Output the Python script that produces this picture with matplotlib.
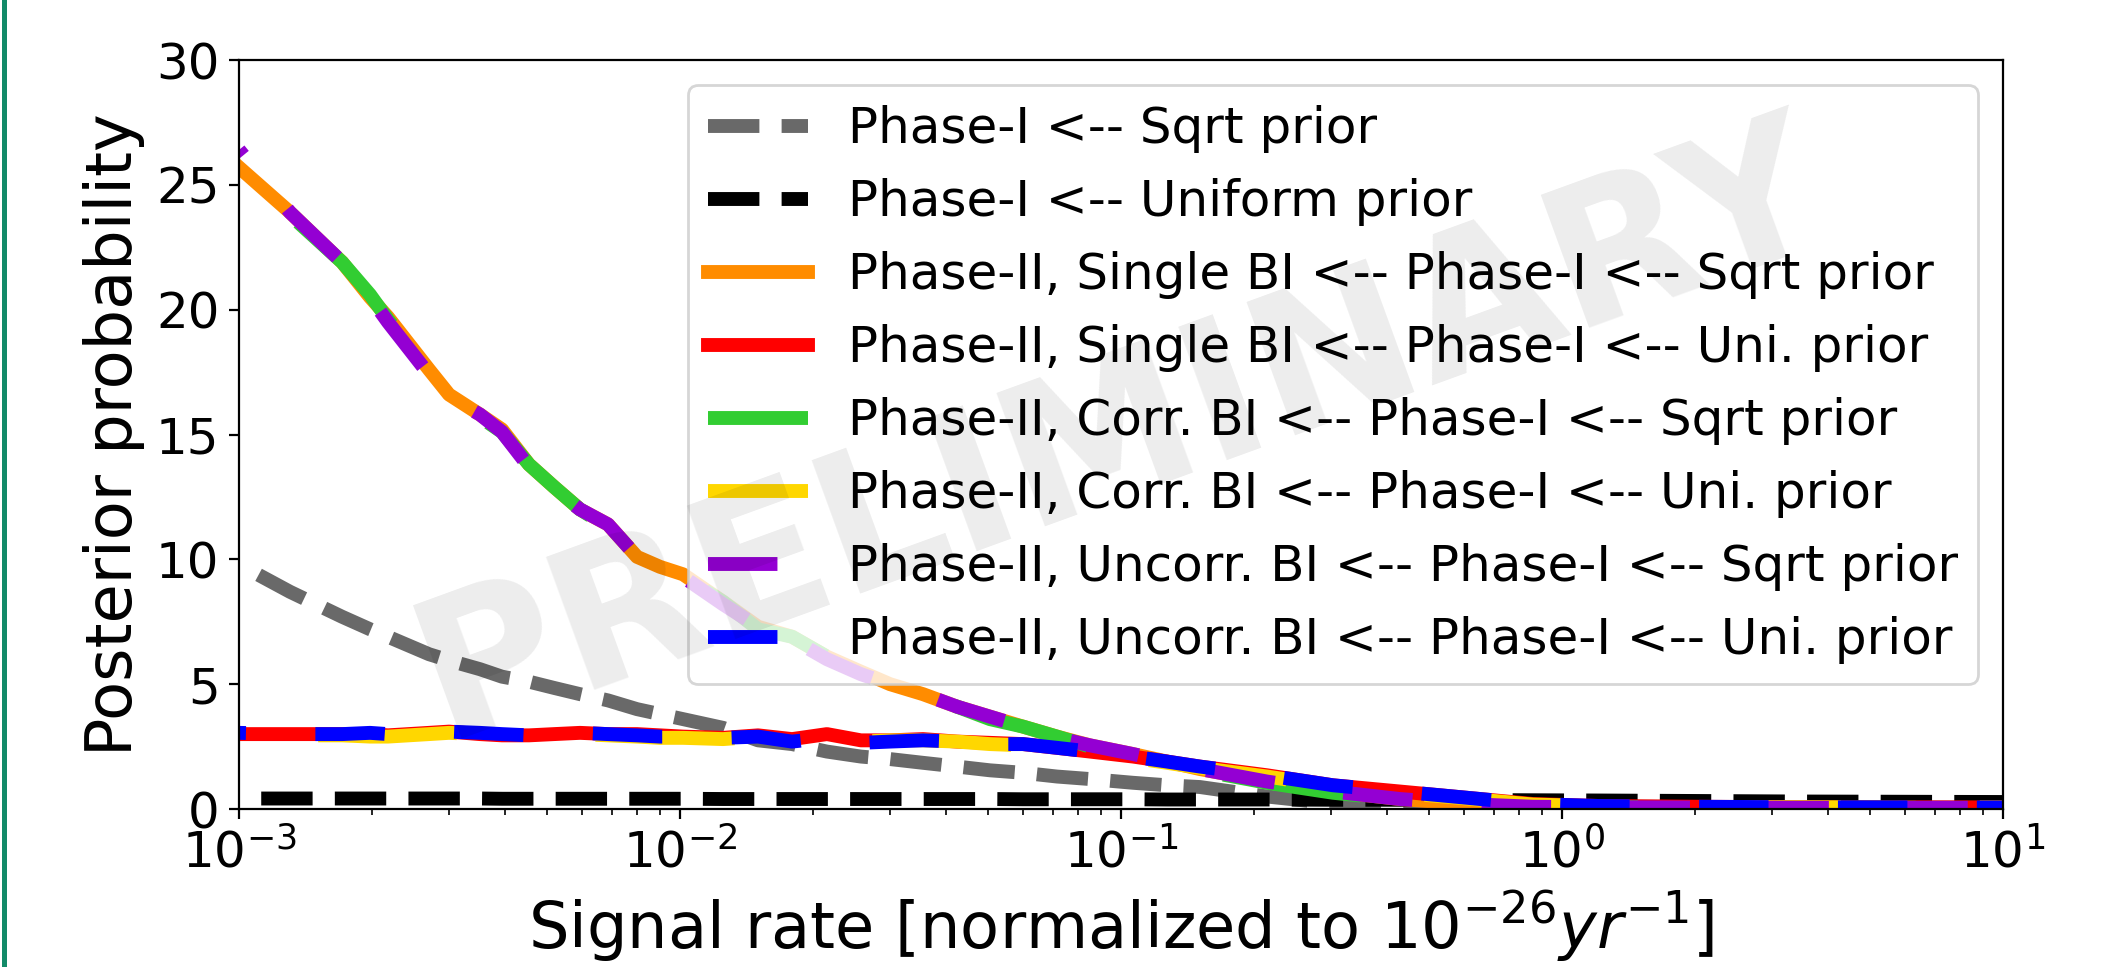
import matplotlib
matplotlib.use("Agg")
import matplotlib.pyplot as plt
from matplotlib.patches import Rectangle

# signal rate grid (normalized to 1e-26 /yr)
rate = [1.000e-3, 1.305e-3, 1.713e-3, 1.982e-3, 2.177e-3, 2.697e-3, 2.994e-3, 3.519e-3,
        3.948e-3, 4.546e-3, 5.181e-3, 5.933e-3, 6.866e-3, 7.990e-3, 9.007e-3, 1.016e-2,
        1.252e-2, 1.503e-2, 1.795e-2, 2.154e-2, 2.572e-2, 2.994e-2, 3.556e-2, 4.247e-2,
        5.044e-2, 5.995e-2, 7.160e-2, 8.506e-2, 0.1065, 0.1272, 0.1510, 0.2144,
        0.3025, 0.4292, 0.6089, 0.8594, 1.219, 2.055, 3.465, 10.0]

# Phase-I posteriors
p1_sqrt = [9.8, 8.7, 7.7, 7.2, 6.9, 6.2, 5.95, 5.6, 5.3, 5.1, 4.85, 4.6, 4.35, 4.0, 3.8, 3.6,
           3.25, 2.75, 2.6, 2.3, 2.1, 2.0, 1.85, 1.7, 1.55, 1.45, 1.3, 1.2, 1.05, 0.95, 0.88, 0.5,
           0.22, 0.15, 0.12, 0.1, 0.1, 0.08, 0.06, 0.05]
p1_uni = [0.42, 0.42, 0.42, 0.42, 0.42, 0.42, 0.42, 0.42, 0.41, 0.41, 0.41, 0.41, 0.41, 0.41, 0.41, 0.41,
          0.40, 0.40, 0.40, 0.40, 0.40, 0.40, 0.40, 0.40, 0.40, 0.39, 0.39, 0.39, 0.39, 0.38, 0.38, 0.38,
          0.37, 0.37, 0.36, 0.35, 0.34, 0.32, 0.30, 0.28]

# Phase-II posteriors
single_sqrt = [25.7, 23.9, 21.9, 20.5, 19.7, 17.6, 16.6, 15.8, 15.2, 13.8, 12.9, 12.0, 11.4, 10.1, 9.7, 9.4,
               8.3, 7.3, 6.9, 6.1, 5.5, 5.0, 4.6, 4.1, 3.7, 3.3, 2.9, 2.55, 2.2, 1.9, 1.6, 1.1,
               0.7, 0.4, 0.2, 0.09, 0.07, 0.06, 0.05, 0.05]
single_uni = [3.0, 3.0, 3.0, 3.0, 2.95, 3.05, 3.1, 3.0, 2.95, 2.95, 3.0, 3.05, 3.0, 3.0, 2.95, 2.9,
              2.85, 2.95, 2.8, 3.0, 2.75, 2.75, 2.8, 2.7, 2.65, 2.6, 2.45, 2.3, 2.1, 1.9, 1.7, 1.35,
              0.95, 0.7, 0.45, 0.2, 0.12, 0.09, 0.07, 0.06]
corr_sqrt = [25.6, 23.8, 21.9, 20.6, 19.6, 17.5, 16.6, 15.7, 15.1, 13.8, 12.9, 12.0, 11.3, 10.1, 9.7, 9.3,
             8.3, 7.2, 6.9, 6.1, 5.5, 5.0, 4.5, 4.1, 3.6, 3.3, 2.9, 2.5, 2.2, 1.85, 1.55, 1.05,
             0.65, 0.38, 0.18, 0.09, 0.07, 0.06, 0.05, 0.05]
corr_uni = [3.0, 2.95, 2.95, 2.9, 2.9, 3.0, 3.05, 3.0, 2.95, 2.9, 2.95, 3.0, 2.95, 2.9, 2.85, 2.85,
            2.8, 2.9, 2.75, 2.9, 2.7, 2.75, 2.75, 2.7, 2.6, 2.55, 2.4, 2.25, 2.05, 1.85, 1.65, 1.3,
            0.9, 0.65, 0.42, 0.18, 0.11, 0.08, 0.07, 0.06]
uncorr_sqrt = [26.4, 23.9, 21.9, 20.5, 19.5, 17.4, 16.5, 15.8, 15.1, 13.7, 12.8, 12.0, 11.4, 10.1, 9.6, 9.3,
               8.2, 7.3, 6.8, 6.0, 5.4, 5.0, 4.6, 4.1, 3.7, 3.3, 2.85, 2.55, 2.2, 1.9, 1.6, 1.1,
               0.7, 0.4, 0.2, 0.09, 0.07, 0.06, 0.05, 0.05]
uncorr_uni = [3.05, 3.0, 3.0, 3.05, 3.0, 3.1, 3.1, 3.05, 3.0, 2.95, 3.0, 3.05, 3.0, 2.95, 2.9, 2.9,
              2.85, 2.9, 2.7, 2.85, 2.65, 2.7, 2.75, 2.7, 2.6, 2.6, 2.45, 2.3, 2.1, 1.9, 1.7, 1.35,
              0.95, 0.7, 0.45, 0.2, 0.12, 0.09, 0.07, 0.06]

labels = ["Phase-I <-- Sqrt prior",
          "Phase-I <-- Uniform prior",
          "Phase-II, Single BI <-- Phase-I <-- Sqrt prior",
          "Phase-II, Single BI <-- Phase-I <-- Uni. prior",
          "Phase-II, Corr. BI <-- Phase-I <-- Sqrt prior",
          "Phase-II, Corr. BI <-- Phase-I <-- Uni. prior",
          "Phase-II, Uncorr. BI <-- Phase-I <-- Sqrt prior",
          "Phase-II, Uncorr. BI <-- Phase-I <-- Uni. prior"]
series = [p1_sqrt, p1_uni, single_sqrt, single_uni, corr_sqrt, corr_uni, uncorr_sqrt, uncorr_uni]
colors = ["dimgray", "black", "darkorange", "red", "limegreen", "gold", "darkviolet", "blue"]
styles = [(3.7, (3.7, 1.6)), (3.7, (3.7, 1.6)), "-", "-",
          (14.3, (10, 10)), (14.3, (10, 10)), (4.5, (5, 5)), (4.5, (5, 5))]
leg_styles = [(0, (3.7, 1.6)), (0, (3.7, 1.6)), "-", "-",
              (0, (10, 10)), (0, (10, 10)), (0, (5, 5)), (0, (5, 5))]

plt.rcParams["font.family"] = "DejaVu Sans"

fig = plt.figure(figsize=(10.525, 4.835), dpi=200)
ax = fig.add_axes([0.11354, 0.16339, 0.838, 0.77456])

for y, c, ls, lab in zip(series, colors, styles, labels):
    ax.plot(rate, y, color=c, lw=5, linestyle=ls, label=lab)

ax.set_xscale("log")
ax.set_xlim(1e-3, 1e1)
ax.set_ylim(0, 30)
ax.set_yticks([0, 5, 10, 15, 20, 25, 30])
ax.tick_params(labelsize=18)
ax.set_xlabel("Signal rate [normalized to $10^{-26}yr^{-1}$]", fontsize=23)
ax.set_ylabel("Posterior probability", fontsize=23)

leg = ax.legend(loc="upper right", fontsize=18)
for h, ls in zip(leg.get_lines(), leg_styles):
    h.set_linestyle(ls)

# watermark
ax.text(0.5, 0.5, "PRELIMINARY", transform=ax.transAxes, ha="center", va="center",
        rotation=20, fontsize=70, fontweight="bold", color="black", alpha=0.075, zorder=10)

# slide border on the left
fig.add_artist(Rectangle((2 / 2105, 0), 5 / 2105, 1, transform=fig.transFigure,
                         color="#128a68", lw=0))

fig.savefig("out.png", dpi=200)
